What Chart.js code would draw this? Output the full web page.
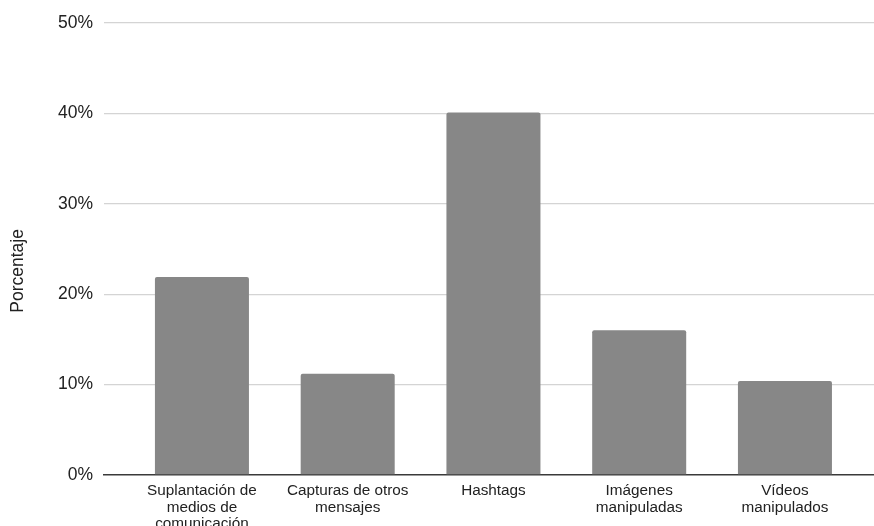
<!DOCTYPE html>
<html>
<head>
<meta charset="utf-8">
<script src="https://cdn.jsdelivr.net/npm/chart.js@4"></script>
<style>
  html, body { margin: 0; padding: 0; background: #fff; }
  #wrap { width: 874px; height: 526px; }
</style>
</head>
<body>
<div id="wrap"><canvas id="chart" width="874" height="526"></canvas></div>
<script>
// categories and their share (%)
const categories = [
  ['Suplantación de', 'medios de', 'comunicación'],
  ['Capturas de otros', 'mensajes'],
  'Hashtags',
  ['Imágenes', 'manipuladas'],
  ['Vídeos', 'manipulados']
];
const percentages = [21.9, 11.2, 40.1, 16.0, 10.4];
const yTicks = [0, 10, 20, 30, 40, 50];

const FONT = "'Liberation Sans', Arial, sans-serif";

const points = percentages.map((v, i) => ({ x: i, y: v }));

new Chart(document.getElementById('chart'), {
  type: 'bar',
  data: {
    datasets: [{
      data: points,
      backgroundColor: '#878787',
      borderRadius: { topLeft: 2, topRight: 2 },
      borderSkipped: 'bottom',
      barPercentage: 0.645,
      categoryPercentage: 1
    }]
  },
  options: {
    responsive: false,
    animation: false,
    layout: { padding: { top: 23, right: 0, left: 0, bottom: 0 } },
    plugins: { legend: { display: false }, tooltip: { enabled: false } },
    scales: {
      x: {
        type: 'linear',
        offset: false,
        min: -0.672,
        max: 4.611,
        grid: { display: false, drawTicks: false },
        border: { display: true, color: '#3a3a3a', width: 1.5 },
        afterBuildTicks: (scale) => {
          scale.ticks = categories.map((_, i) => ({ value: i }));
        },
        afterFit: (scale) => { scale.height = 51; },
        ticks: {
          autoSkip: false,
          maxRotation: 0,
          padding: 8,
          color: '#222',
          font: { family: FONT, size: 15.3, lineHeight: 1.07 },
          callback: (v) => categories[v]
        }
      },
      y: {
        min: 0,
        max: 50,
        afterBuildTicks: (scale) => {
          scale.ticks = yTicks.map(v => ({ value: v }));
        },
        afterFit: (scale) => { scale.width = 104; },
        grid: {
          drawTicks: false,
          color: (ctx) => ctx.tick && ctx.tick.value === 0 ? 'rgba(0,0,0,0)' : '#d4d4d4',
          lineWidth: 1.3
        },
        border: { display: false },
        ticks: {
          padding: 11,
          color: '#222',
          font: { family: FONT, size: 17.5 },
          callback: (v) => v + '%'
        },
        title: {
          display: true,
          // trailing spaces push the centred word a little below the middle
          text: 'Porcentaje         ',
          color: '#222',
          font: { family: FONT, size: 17.5 },
          padding: { top: 7.5, bottom: 0 }
        }
      }
    }
  }
});
</script>
</body>
</html>
